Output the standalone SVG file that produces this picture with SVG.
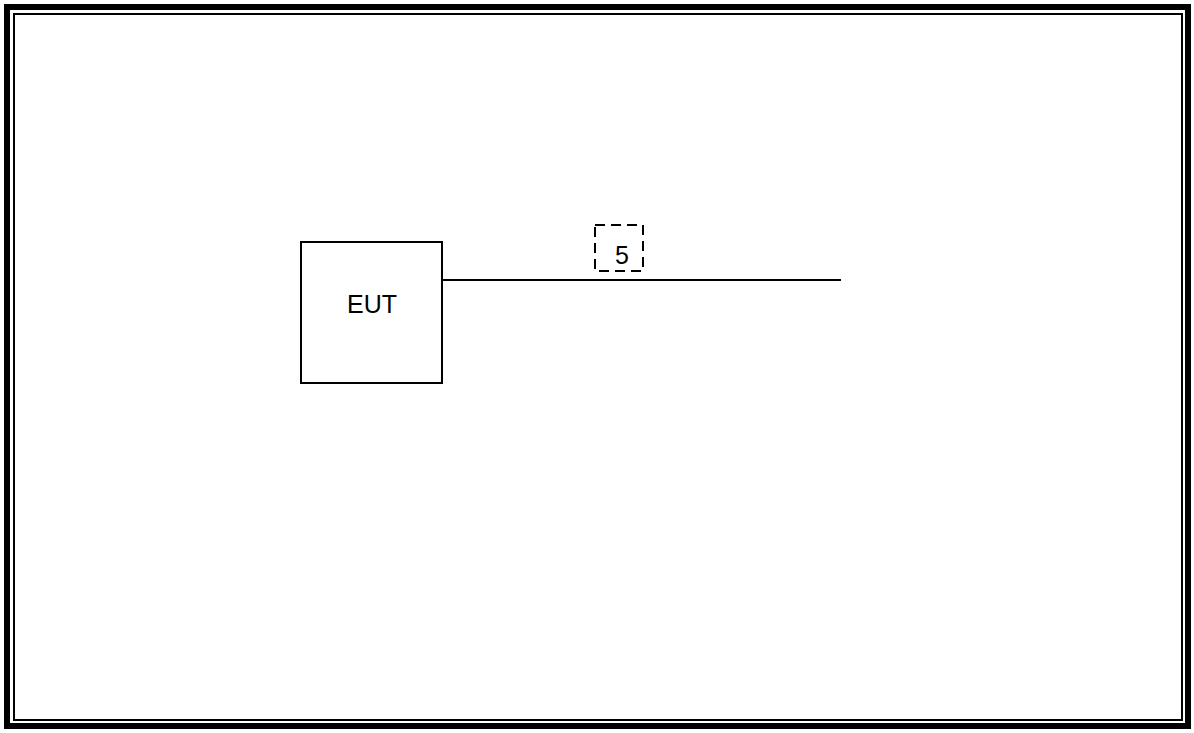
<svg xmlns="http://www.w3.org/2000/svg" width="1194" height="733" viewBox="0 0 1194 733">
  <style>
    .frame-outer { fill: none; stroke: #000; stroke-width: 6; }
    .frame-inner { fill: none; stroke: #000; stroke-width: 2; }
    .box { fill: #fff; stroke: #000; stroke-width: 2; }
    .label-box { fill: none; stroke: #000; stroke-width: 2; stroke-dasharray: 10 6; }
    .wire { stroke: #000; stroke-width: 2; fill: none; }
    .txt { font-family: "Liberation Sans", Arial, sans-serif; font-size: 25px; fill: #000; text-anchor: middle; }
  </style>
  <rect width="1194" height="733" fill="#fff"/>
  <!-- page frame: thick outer rule with thin inner rule -->
  <rect class="frame-outer" x="7" y="7" width="1181" height="719"/>
  <rect class="frame-inner" x="14" y="14" width="1168" height="706"/>

  <g id="connectors">
    <line class="wire" x1="442" y1="280" x2="841" y2="280"/>
  </g>

  <g id="eut">
    <rect class="box" x="301" y="242" width="141" height="141"/>
    <text class="txt" x="372" y="313">EUT</text>
  </g>

  <g id="port-5">
    <rect class="label-box" x="595" y="225" width="48" height="46"/>
    <text class="txt" x="622" y="264">5</text>
  </g>
</svg>
